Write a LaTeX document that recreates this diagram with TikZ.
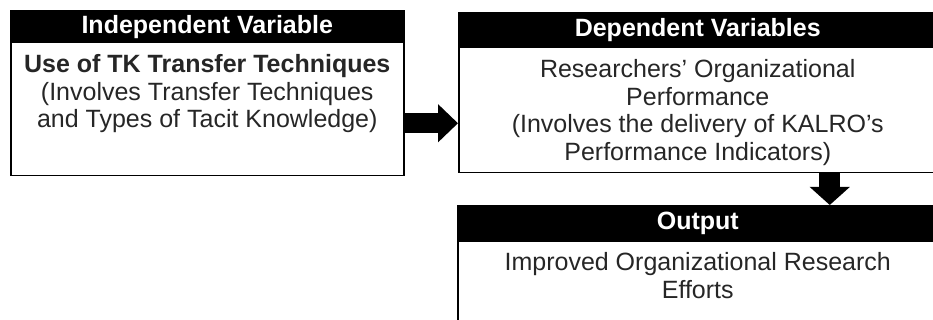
\documentclass[tikz,border=0pt]{standalone}
\usepackage{fontspec}
\setmainfont{Liberation Sans}
\usepackage{tikz}
\usetikzlibrary{positioning}
\usetikzlibrary{arrows.meta}

\begin{document}
\begin{tikzpicture}[
          x=1pt,y=-1pt,
          node distance=11pt and 11pt,
          mybox/.style={draw,line width=1.5pt,anchor=north west,inner sep=0pt},
          myhead/.style={fill=black,text=white,inner sep=0pt,anchor=north,
                         font=\fontsize{25}{27.5}\selectfont\bfseries},
          mytext/.style={align=center,inner sep=0pt,text=black!85,
                         font=\fontsize{25}{27.5}\selectfont},
          myarrow/.style={line width=20pt,-{Triangle[width=37pt,length=20pt]}},
          mydownarrow/.style={line width=21pt,-{Triangle[width=39pt,length=18pt]}}
          ]
          \useasboundingbox (0,0) rectangle (933,320);
          \clip (0,0) rectangle (933,320);

          \node[mybox,minimum width=393pt,minimum height=165pt] (indep) at (10,10) {};
          \node[myhead,minimum width=393pt,minimum height=33pt] (indephead) at (indep.north) {Independent Variable};
          \node[mytext,below=of indephead] (indeptext) {\textbf{Use of TK Transfer Techniques}\\(Involves Transfer Techniques\\and Types of Tacit Knowledge)};

          \node[mybox,minimum width=478pt,minimum height=160pt] (dep) at (458,12) {};
          \node[myhead,minimum width=478pt,minimum height=36pt] (dephead) at (dep.north) {Dependent Variables};
          \node[mytext,below=of dephead] (deptext) {Researchers' Organizational\\Performance\\(Involves the delivery of KALRO's\\Performance Indicators)};

          \node[mybox,minimum width=480pt,minimum height=140pt] (out) at (457,205) {};
          \node[myhead,minimum width=480pt,minimum height=37pt] (outhead) at (out.north) {Output};
          \node[mytext,below=10pt of outhead] (outtext) {Improved Organizational Research\\Efforts};

          \draw[myarrow] ([yshift=-30pt]indep.east) -- ([yshift=-30pt]indep.east -| dep.west);
          \draw[mydownarrow] ([xshift=132pt]dep.south) -- ([xshift=132pt]dep.south |- out.north);
        \end{tikzpicture}
\end{document}
